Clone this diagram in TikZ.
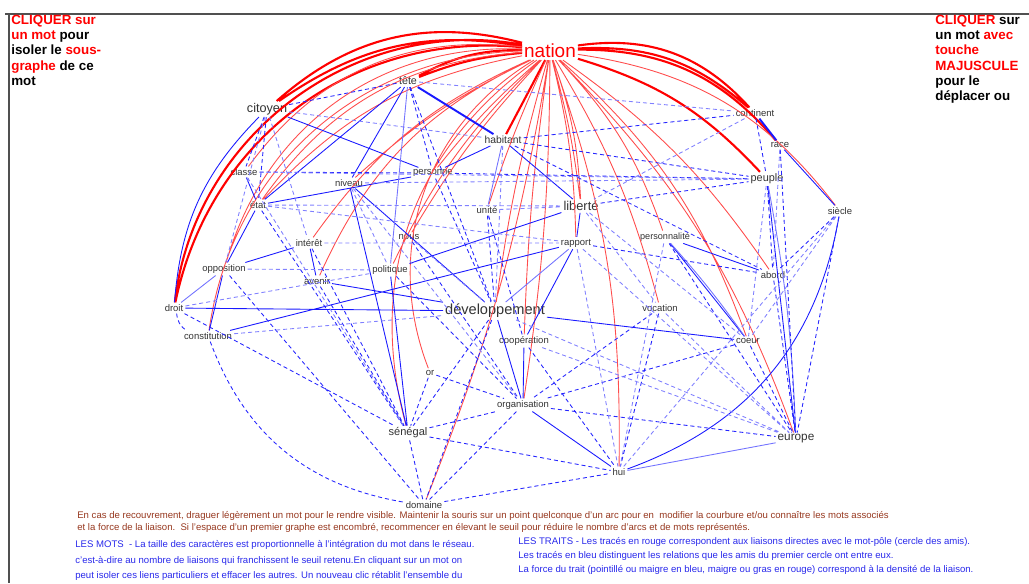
\documentclass[tikz,border=0pt]{standalone}
\usepackage{fontspec}
\setmainfont{Liberation Sans}
\usepackage{tikz}
\usetikzlibrary{positioning}

\definecolor{brun}{RGB}{150,55,30}
\definecolor{bleutexte}{RGB}{40,40,235}
\definecolor{cadre}{RGB}{80,80,80}

\begin{document}
\begin{tikzpicture}[
    x=0.02cm, y=-0.02cm,
    mot/.style={font=\fontsize{5.4}{6}\selectfont, text=black!80, inner sep=1pt},
    rouge/.style={red!70, line width=0.5pt},
    rougegras/.style={red, line width=1.2pt},
    bleu/.style={blue!90, line width=0.5pt},
    bleuclair/.style={blue!55, line width=0.5pt},
    bleupt/.style={blue!85, line width=0.5pt, dash pattern=on 2.3pt off 1.7pt},
    bleuptclair/.style={blue!50, line width=0.5pt, dash pattern=on 2.3pt off 1.7pt},
    aide/.style={font=\bfseries\fontsize{7.6}{8.6}\selectfont, align=left, inner sep=0pt, anchor=north west},
    legende/.style={font=\fontsize{5.45}{6}\selectfont, inner sep=0pt, anchor=west}
]
\useasboundingbox (0,0) rectangle (1029,583);
\draw[cadre, line width=1.1pt] (5,14) -- (1029,14);
\draw[cadre, line width=1.1pt] (9,14) -- (9,583);

\node[mot, font=\fontsize{10.8}{12}\selectfont, text=red] (nation) at (550,51) {nation};
\node[mot, font=\fontsize{6.1}{7}\selectfont] (tete) at (408,81) {tête};
\node[mot, font=\fontsize{7.2}{8}\selectfont] (citoyen) at (267,109) {citoyen};
\node[mot, font=\fontsize{5.9}{7}\selectfont] (habitant) at (503,140) {habitant};
\node[mot] (continent) at (755,113) {continent};
\node[mot] (race) at (780,145) {race};
\node[mot] (classe) at (244,172) {classe};
\node[mot] (niveau) at (349,183) {niveau};
\node[mot] (personne) at (433,173) {personne};
\node[mot, font=\fontsize{6.2}{7}\selectfont] (peuple) at (767,179) {peuple};
\node[mot] (siecle) at (840,211) {siècle};
\node[mot] (etat) at (258,205) {état};
\node[mot] (unite) at (487,210) {unité};
\node[mot, font=\fontsize{7.3}{8}\selectfont] (liberte) at (581,206) {liberté};
\node[mot] (interet) at (309,243) {intérêt};
\node[mot] (nous) at (409,237) {nous};
\node[mot] (rapport) at (576,243) {rapport};
\node[mot, font=\fontsize{5.2}{6}\selectfont] (personnalite) at (665,237) {personnalité};
\node[mot] (opposition) at (224,269) {opposition};
\node[mot] (avenir) at (317,281) {avenir};
\node[mot] (politique) at (390,270) {politique};
\node[mot] (abord) at (773,275) {abord};
\node[mot] (droit) at (174,308) {droit};
\node[mot, font=\fontsize{8.3}{9}\selectfont] (developpement) at (495,311) {développement};
\node[mot] (vocation) at (660,308) {vocation};
\node[mot] (constitution) at (208,336) {constitution};
\node[mot] (cooperation) at (524,341) {coopération};
\node[mot] (coeur) at (748,341) {coeur};
\node[mot] (or) at (430,373) {or};
\node[mot] (organisation) at (523,405) {organisation};
\node[mot, font=\fontsize{6.3}{7}\selectfont] (senegal) at (408,433) {sénégal};
\node[mot, font=\fontsize{6.7}{7}\selectfont] (europe) at (796,439) {europe};
\node[mot] (hui) at (619,472) {hui};
\node[mot] (domaine) at (424,505) {domaine};

\draw[rougegras] (nation) to[bend right=8] (tete) (nation) to[bend right=14] (tete)
    (nation) to[bend right=22] (citoyen) (nation) to[bend right=28] (citoyen)
    (nation) to[bend right=42] (droit) (nation) to[bend right=47] (droit)
    (nation) to[bend left=22] (continent) (nation) to[bend left=28] (continent)
    (nation) to[bend left=25] (race) (nation) to[bend left=15] (peuple)
    (nation) -- (habitant);
\draw[rouge] (nation) to[bend right=30] (classe) (nation) to[bend right=25] (etat)
    (nation) to[bend right=18] (etat) (nation) to[bend right=38] (opposition)
    (nation) to[bend right=40] (constitution) (nation) to[bend right=15] (interet)
    (nation) to[bend right=8] (niveau) (nation) to[bend right=5] (personne)
    (nation) to[bend right=3] (unite) (nation) to[bend left=4] (liberte)
    (nation) to[bend left=8] (liberte) (nation) to[bend left=6] (rapport)
    (nation) to[bend left=12] (personnalite) (nation) to[bend left=8] (vocation)
    (nation) to[bend right=4] (developpement) (nation) to[bend right=3] (cooperation)
    (nation) to[bend left=10] (abord) (nation) to[bend left=14] (coeur)
    (nation) to[bend left=12] (europe) (nation) to[bend left=22] (siecle)
    (nation) to[bend left=10] (hui) (nation) to[bend left=4] (organisation)
    (nation) to[bend left=6] (domaine) (nation) to[bend right=35] (senegal)
    (nation) to[bend right=40] (or) (nation) to[bend right=20] (avenir)
    (nation) to[bend right=6] (nous) (nation) to[bend right=10] (politique);

\draw[bleu, line width=1.1pt] (tete) -- (habitant) (continent) -- (race);
\draw[bleu] (tete) -- (niveau) (tete) -- (etat) (citoyen) -- (personne)
    (citoyen) to[bend right=20] (droit) (etat) -- (personne) (etat) -- (opposition)
    (classe) -- (etat) (droit) -- (developpement) (constitution) -- (rapport)
    (constitution) -- (opposition) (opposition) -- (interet) (avenir) -- (developpement)
    (politique) -- (liberte) (developpement) -- (organisation) (cooperation) -- (organisation)
    (organisation) -- (hui) (hui) to[bend right=30] (siecle) (personnalite) -- (coeur)
    (personnalite) -- (abord) (developpement) -- (coeur) (habitant) -- (personne)
    (habitant) -- (liberte) (liberte) -- (rapport) (niveau) -- (developpement)
    (politique) -- (senegal) (niveau) -- (senegal) (peuple) -- (europe)
    (race) -- (siecle) (interet) -- (avenir) (rapport) -- (cooperation);
\draw[bleuclair] (tete) -- (politique) (droit) -- (opposition) (habitant) -- (unite)
    (rapport) -- (developpement) (peuple) to[bend left=4] (europe) (hui) -- (europe)
    (personnalite) to[bend left=3] (coeur);
\draw[bleupt] (habitant) -- (continent) (habitant) -- (peuple) (personne) -- (peuple)
    (classe) -- (personne) (citoyen) -- (tete) (citoyen) -- (classe) (citoyen) -- (etat)
    (droit) to[bend right=25] (constitution) (droit) -- (senegal)
    (constitution) to[bend right=30] (domaine) (etat) -- (senegal) (interet) -- (senegal)
    (nous) -- (organisation) (unite) -- (developpement) (unite) -- (cooperation)
    (liberte) -- (peuple) (rapport) -- (abord) (personnalite) -- (europe)
    (vocation) -- (hui) (vocation) -- (organisation) (coeur) -- (europe)
    (coeur) -- (organisation) (abord) -- (europe) (peuple) -- (abord) (siecle) -- (abord)
    (race) -- (europe) (siecle) -- (europe) (continent) -- (peuple)
    (senegal) -- (organisation) (senegal) -- (hui) (senegal) -- (domaine)
    (domaine) -- (hui) (domaine) -- (organisation) (organisation) -- (europe)
    (cooperation) -- (hui) (developpement) -- (senegal) (developpement) -- (domaine)
    (or) -- (senegal) (or) -- (organisation) (politique) -- (organisation)
    (avenir) -- (senegal) (opposition) -- (domaine) (personne) -- (developpement)
    (habitant) -- (abord) (tete) -- (personne) (tete) -- (developpement);
\draw[bleuptclair] (niveau) -- (politique) (niveau) -- (organisation)
    (nous) -- (developpement) (interet) -- (rapport) (etat) -- (rapport)
    (classe) -- (senegal) (citoyen) -- (opposition) (citoyen) -- (interet)
    (liberte) -- (coeur) (rapport) -- (europe) (unite) -- (liberte)
    (habitant) -- (developpement) (tete) -- (continent) (citoyen) -- (habitant)
    (classe) -- (peuple) (etat) -- (liberte) (droit) -- (politique)
    (constitution) -- (developpement) (opposition) -- (politique)
    (developpement) -- (europe) (vocation) -- (europe) (cooperation) -- (europe)
    (personnalite) -- (hui) (rapport) -- (hui) (liberte) -- (vocation)
    (peuple) -- (coeur) (race) -- (abord) (continent) -- (liberte)
    (siecle) -- (coeur) (siecle) -- (hui) (niveau) -- (peuple);

\node[aide] (aidegauche) at (11,15) {\textcolor{red}{CLIQUER sur}\\\textcolor{red}{un mot} pour\\isoler le \textcolor{red}{sous-}\\\textcolor{red}{graphe} de ce\\mot};
\node[aide] (aidedroite) at (935,15) {\textcolor{red}{CLIQUER} sur\\un mot \textcolor{red}{avec}\\\textcolor{red}{touche}\\\textcolor{red}{MAJUSCULE}\\pour le\\déplacer ou};

\node[legende, text=brun] (recouv1) at (77,516) {En cas de recouvrement, draguer légèrement un mot pour le rendre visible. Maintenir la souris sur un point quelconque d'un arc pour en\ \ modifier la courbure et/ou connaître les mots associés};
\node[legende, text=brun] (recouv2) at (77,528) {et la force de la liaison.\ \ Si l'espace d'un premier graphe est encombré, recommencer en élevant le seuil pour réduire le nombre d'arcs et de mots représentés.};
\node[legende, text=bleutexte] (mots1) at (75,545) {LES MOTS\ \ - La taille des caractères est proportionnelle à l'intégration du mot dans le réseau.};
\node[legende, text=bleutexte] (mots2) at (75,561) {c'est-à-dire au nombre de liaisons qui franchissent le seuil retenu.En cliquant sur un mot on};
\node[legende, text=bleutexte] (mots3) at (75,576) {peut isoler ces liens particuliers et effacer les autres. Un nouveau clic rétablit l'ensemble du};
\node[legende, text=bleutexte] (traits1) at (518,542) {LES TRAITS - Les tracés en rouge correspondent aux liaisons directes avec le mot-pôle (cercle des amis).};
\node[legende, text=bleutexte] (traits2) at (518,556) {Les tracés en bleu distinguent les relations que les amis du premier cercle ont entre eux.};
\node[legende, text=bleutexte] (traits3) at (518,570) {La force du trait (pointillé ou maigre en bleu, maigre ou gras en rouge) correspond à la densité de la liaison.};
\end{tikzpicture}
\end{document}
